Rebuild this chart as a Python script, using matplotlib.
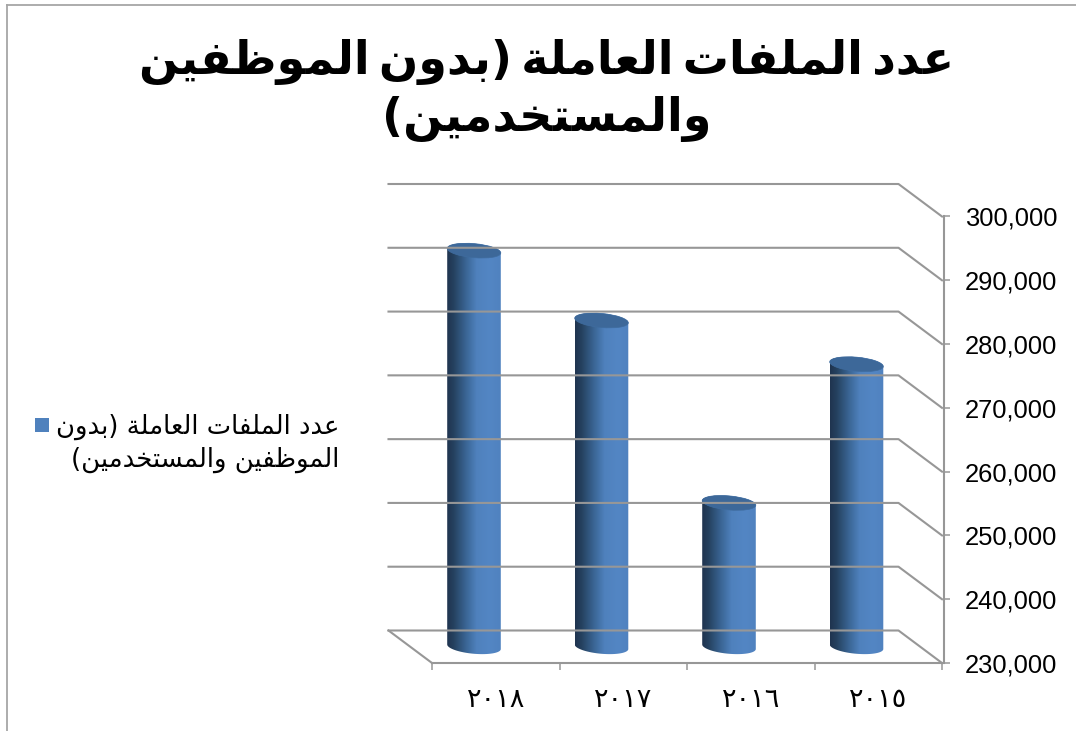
import numpy as np
import matplotlib
matplotlib.use("Agg")
import matplotlib.pyplot as plt
from matplotlib.patches import Ellipse, PathPatch, Rectangle
from matplotlib.path import Path
from matplotlib.transforms import IdentityTransform
from matplotlib.colors import to_rgb
from matplotlib.lines import Line2D

# ---- data ----
categories = ["٢٠١٨", "٢٠١٧", "٢٠١٦", "٢٠١٥"]
values = [292100, 281150, 252550, 274300]
y_ticks = [230000, 240000, 250000, 260000, 270000, 280000, 290000, 300000]
title_lines = ["عدد الملفات العاملة (بدون الموظفين", "والمستخدمين)"]
legend_lines = ["عدد الملفات العاملة (بدون", "الموظفين والمستخدمين)"]

W, H = 1076, 731

# ---- minimal Arabic shaping (matplotlib has no bidi / joining support) ----
FORMS = {
    "ع": (0xFEC9, 0xFECA, 0xFECB, 0xFECC), "ل": (0xFEDD, 0xFEDE, 0xFEDF, 0xFEE0),
    "م": (0xFEE1, 0xFEE2, 0xFEE3, 0xFEE4), "ف": (0xFED1, 0xFED2, 0xFED3, 0xFED4),
    "ت": (0xFE95, 0xFE96, 0xFE97, 0xFE98), "ب": (0xFE8F, 0xFE90, 0xFE91, 0xFE92),
    "ن": (0xFEE5, 0xFEE6, 0xFEE7, 0xFEE8), "ظ": (0xFEC5, 0xFEC6, 0xFEC7, 0xFEC8),
    "ي": (0xFEF1, 0xFEF2, 0xFEF3, 0xFEF4), "س": (0xFEB1, 0xFEB2, 0xFEB3, 0xFEB4),
    "خ": (0xFEA5, 0xFEA6, 0xFEA7, 0xFEA8), "د": (0xFEA9, 0xFEAA),
    "ا": (0xFE8D, 0xFE8E), "ة": (0xFE93, 0xFE94), "و": (0xFEED, 0xFEEE),
}
SWAP = {"(": ")", ")": "("}


def shape(text, space=" "):
    out = []
    for i, ch in enumerate(text):
        f = FORMS.get(ch)
        if f is None:
            out.append(space if ch == " " else SWAP.get(ch, ch))
            continue
        prev = text[i - 1] if i else ""
        nxt = text[i + 1] if i + 1 < len(text) else ""
        join_prev = prev in FORMS and len(FORMS[prev]) == 4
        join_next = len(f) == 4 and nxt in FORMS
        if join_prev and join_next:
            c = f[3]
        elif join_prev:
            c = f[1]
        elif join_next:
            c = f[2]
        else:
            c = f[0]
        out.append(chr(c))
    return "".join(reversed(out))


fig = plt.figure(figsize=(W / 100, H / 100), dpi=100, facecolor="white")
L, R, T, B = 432, 942, 216.5, 663
ax = fig.add_axes([L / W, 1 - B / H, (R - L) / W, (B - T) / H])
ax.set_facecolor("none")
ax.set_xlim(0, len(categories))
ax.set_ylim(y_ticks[0], y_ticks[-1])

GRID = "#979797"
LW = 1.5
DEPTH_X, DEPTH_Y = -43.5, 32.5   # pixels from front plane to back wall


def px(x, y):
    return ax.transData.transform((x, y))


def pline(xs, ys, z=1):
    fig.add_artist(Line2D(xs, ys, transform=IdentityTransform(), color=GRID, lw=LW, zorder=z))


fig.canvas.draw()
# walls and gridlines
for v in y_ticks:
    fx, fy = px(len(categories), v)
    lx, _ = px(0, v)
    pline([lx + DEPTH_X, fx + DEPTH_X, fx], [fy + DEPTH_Y, fy + DEPTH_Y, fy], z=0.5)
bx, by = px(0, y_ticks[0])
pline([bx + DEPTH_X, bx], [by + DEPTH_Y, by], z=0.5)

# axis styling
for s in ("left", "top"):
    ax.spines[s].set_visible(False)
ax.spines["bottom"].set_color(GRID)
ax.spines["bottom"].set_linewidth(LW)
ax.spines["right"].set_color(GRID)
ax.spines["right"].set_linewidth(LW)
ax.spines["right"].set_position(("outward", 1.44))
ax.yaxis.tick_right()
ax.set_yticks(y_ticks)
ax.set_yticklabels([f"{v:,}" for v in y_ticks], fontfamily="Liberation Sans", fontsize=18.4)
ax.tick_params(axis="y", length=4.3, width=1.1, color=GRID, pad=10.8)
ax.set_xticks(np.arange(len(categories) + 1))
ax.set_xticklabels([])
ax.tick_params(axis="x", length=5, width=1.1, color=GRID)
ax.set_xticks(np.arange(len(categories)) + 0.5, minor=True)
ax.set_xticklabels(categories, minor=True, fontfamily="DejaVu Sans", fontsize=19.5)
ax.tick_params(axis="x", which="minor", length=0, pad=17.5)

# cylinders
stops = [0, 0.12, 0.35, 0.55, 0.8, 1]
cols = np.array([to_rgb(c) for c in ("#1f344f", "#25415f", "#3a6594", "#4f81bd", "#5386c4", "#5082bf")])
t = np.linspace(0, 1, 128)
grad = np.stack([np.interp(t, stops, cols[:, k]) for k in range(3)], axis=1)[None, :, :]

A, Bm = 26.9, 7.0
ANG = np.deg2rad(-5.2)


def ell(cx, cy, th):
    ex, ey = A * np.cos(th), Bm * np.sin(th)
    return cx + ex * np.cos(ANG) - ey * np.sin(ANG), cy + ex * np.sin(ANG) + ey * np.cos(ANG)


for i, v in enumerate(values):
    fx, fy0 = px(i + 0.5, y_ticks[0])
    _, fy1 = px(i + 0.5, v)
    cx = fx + DEPTH_X / 2
    y0 = fy0 + DEPTH_Y / 2
    y1 = fy1 + DEPTH_Y / 2
    lower = np.linspace(np.pi, 2 * np.pi, 40)
    upper = np.linspace(0, np.pi, 40)
    xb, yb = ell(cx, y0, lower)
    xt, yt = ell(cx, y1, upper)
    verts = np.column_stack([np.r_[xb, xt], np.r_[yb, yt]])
    verts = np.vstack([verts, verts[0]])
    clip = PathPatch(Path(verts, closed=True), transform=IdentityTransform(), fc="none", ec="none")
    fig.add_artist(clip)
    im = ax.imshow(grad, extent=(cx - A, cx + A, y0 - 20, y1 + 20), aspect="auto",
                   transform=IdentityTransform(), interpolation="bilinear", zorder=3)
    im.set_clip_path(clip)
    ax.add_patch(Ellipse((cx, y1), 2 * A, 2 * Bm, angle=np.rad2deg(ANG), transform=IdentityTransform(),
                         fc="#3d6899", ec="#3f6c9f", lw=0.5, zorder=4))

ax.set_xlim(0, len(categories))
ax.set_ylim(y_ticks[0], y_ticks[-1])


def ftext(x, y, s, **kw):
    fig.text(x / W, 1 - y / H, s, va="center", family="DejaVu Sans", color="black", **kw)


# title
ftext(547, 62, shape(title_lines[0], space="\u2009"), ha="center", fontsize=33.2, fontweight="bold")
ftext(547, 119, shape(title_lines[1]), ha="center", fontsize=33.2, fontweight="bold")

# legend
fig.add_artist(Rectangle((35 / W, 1 - 432 / H), 14 / W, 14 / H, transform=fig.transFigure,
                         fc="#4f81bd", ec="none"))
ftext(339, 427, shape(legend_lines[0]), ha="right", fontsize=18.6)
ftext(339, 460, shape(legend_lines[1]), ha="right", fontsize=18.6)

# outer frame edges (left and top)
fig.add_artist(Line2D([6.5 / W, 6.5 / W], [0, 1 - 5 / H], transform=fig.transFigure, color="#a6a6a6", lw=1.3))
fig.add_artist(Line2D([6.5 / W, 1], [1 - 5 / H, 1 - 5 / H], transform=fig.transFigure, color="#a6a6a6", lw=1.3))

fig.savefig("out.png", dpi=100, facecolor="white")
